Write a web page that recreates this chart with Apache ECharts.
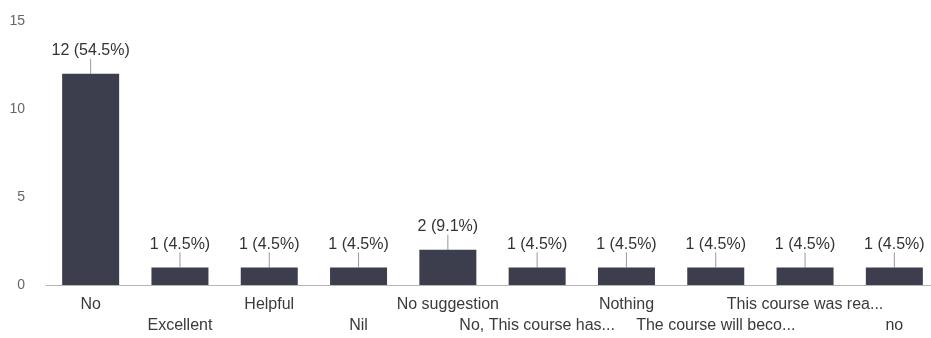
<!DOCTYPE html>
<html>
<head>
<meta charset="utf-8">
<script src="https://cdn.jsdelivr.net/npm/echarts@6/dist/echarts.min.js"></script>
<style>
  html, body { margin: 0; padding: 0; background: #fff; }
  #bar-chart { width: 931px; height: 338px; }
</style>
</head>
<body>
<div id="bar-chart"></div>
<script>
  var categories = ['No', 'Excellent', 'Helpful', 'Nil', 'No suggestion', 'No, This course has...',
    'Nothing', 'The course will beco...', 'This course was rea...', 'no'];
  var counts = [12, 1, 1, 1, 2, 1, 1, 1, 1, 1];
  var percents = ['54.5%', '4.5%', '4.5%', '4.5%', '9.1%', '4.5%', '4.5%', '4.5%', '4.5%', '4.5%'];
  var yTicks = [0, 5, 10, 15];

  var chartDom = document.getElementById('bar-chart');
  var myChart = echarts.init(chartDom);
  var option;
  option = {
    animation: false,
    textStyle: { fontFamily: 'Liberation Sans' },
    grid: { left: 46, width: 893, top: 21, bottom: 53, outerBoundsMode: 'none', containLabel: false },
    xAxis: {
      type: 'category',
      data: categories,
      axisTick: { show: false },
      axisLine: { lineStyle: { color: '#b5b5b5', width: 1 } },
      axisLabel: {
        interval: 0,
        margin: 9,
        color: '#3a3a3a',
        fontSize: 16,
        lineHeight: 21,
        formatter: function (value, index) {
          return index % 2 ? '\n' + value : value;
        }
      }
    },
    yAxis: {
      type: 'value',
      min: yTicks[0],
      max: yTicks[yTicks.length - 1],
      interval: 5,
      splitLine: { show: false },
      axisLine: { show: false },
      axisTick: { show: false },
      axisLabel: { color: '#666', fontSize: 14, margin: 21 }
    },
    series: [
      {
        type: 'bar',
        data: counts,
        barWidth: 57,
        itemStyle: { color: '#3c3e4d' },
        label: {
          show: true,
          position: 'top',
          distance: 4,
          color: '#333',
          fontSize: 16,
          formatter: function (p) {
            return p.value + ' (' + percents[p.dataIndex] + ')';
          }
        },
        labelLayout: { dy: -11 },
        labelLine: { show: true, lineStyle: { color: '#999', width: 1 } }
      }
    ]
  };

  option && myChart.setOption(option);
</script>
</body>
</html>
